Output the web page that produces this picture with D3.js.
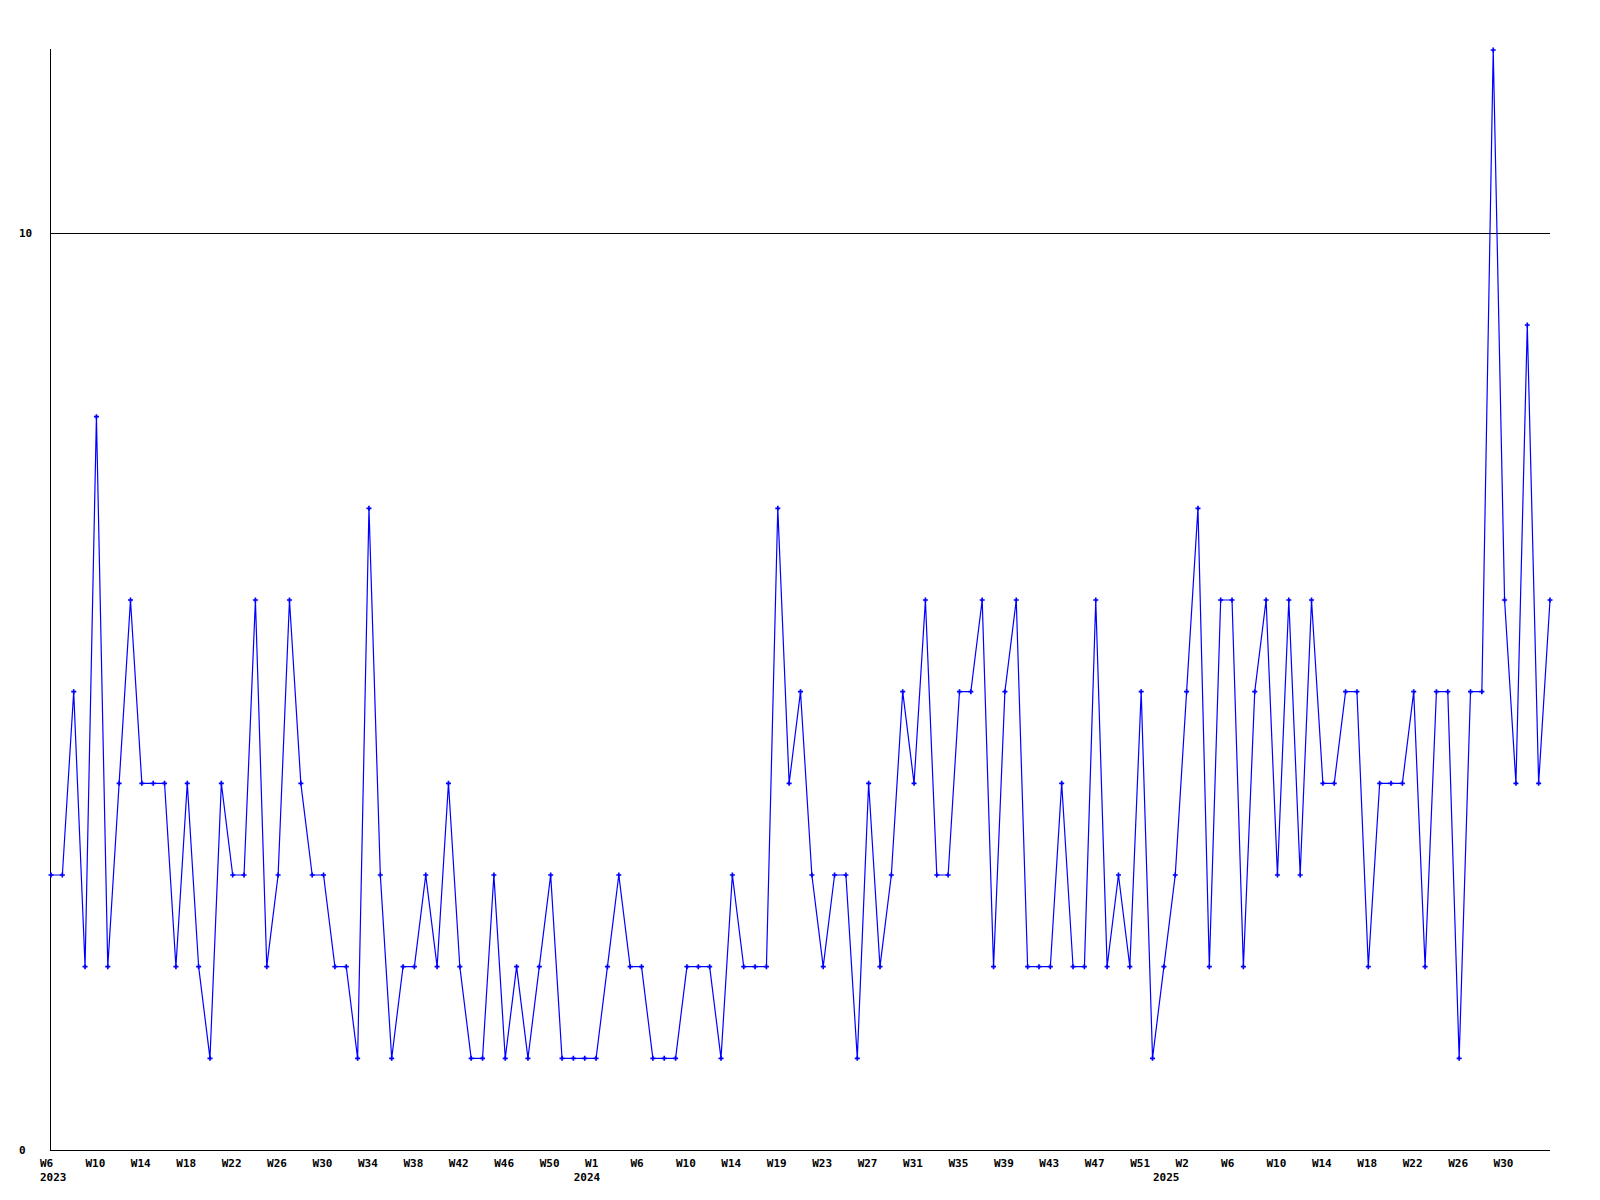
<!DOCTYPE html>
<html>
<head>
<meta charset="utf-8">
<script src="https://cdn.jsdelivr.net/npm/d3@7"></script>
<style>
  html, body { margin: 0; padding: 0; background: #fff; }
  svg text { font-family: "DejaVu Sans Mono", monospace; font-weight: bold; font-size: 11px; fill: #000; }
</style>
</head>
<body>
<svg id="chart" width="1600" height="1200"></svg>
<script>
const values = [3,3,5,2,8,2,4,6,4,4,
  4,2,4,2,1,4,3,3,6,2,
  3,6,4,3,3,2,2,1,7,3,
  1,2,2,3,2,4,2,1,1,3,
  1,2,1,2,3,1,1,1,1,2,
  3,2,2,1,1,1,2,2,2,1,
  3,2,2,2,7,4,5,3,2,3,
  3,1,4,2,3,5,4,6,3,3,
  5,5,6,2,5,6,2,2,2,4,
  2,2,6,2,3,2,5,1,2,3,
  5,7,2,6,6,2,5,6,3,6,
  3,6,4,4,5,5,2,4,4,4,
  5,2,5,5,1,5,5,12,6,4,
  9,4,6];
const weekLabels = ["W6","W10","W14","W18","W22","W26","W30","W34","W38","W42","W46","W50",
  "W1","W6","W10","W14","W19","W23","W27","W31","W35","W39","W43","W47","W51",
  "W2","W6","W10","W14","W18","W22","W26","W30"];
const weekLabelStep = 4;
const yearLabels = ["2023","2024","2025"];
const yearIndex = [0,47,98];
const yTicks = [0,10];
const yMax = 12;

const svg = d3.select("#chart");
const x = d3.scaleLinear().domain([0, values.length - 1]).range([51, 1550]);
const y = d3.scaleLinear().domain([0, yMax]).range([1150, 50]);

// grid line at 10
svg.append("g").selectAll("line").data(yTicks.filter(d => d > 0)).join("line")
  .attr("x1", 50).attr("x2", 1550)
  .attr("y1", d => Math.round(y(d)) + 0.5).attr("y2", d => Math.round(y(d)) + 0.5)
  .attr("stroke", "#000").attr("stroke-width", 1);

// axes lines
svg.append("line").attr("x1", 50.5).attr("x2", 50.5).attr("y1", 49).attr("y2", 1150.5)
  .attr("stroke", "#000");
svg.append("line").attr("x1", 50).attr("x2", 1550).attr("y1", 1150.5).attr("y2", 1150.5)
  .attr("stroke", "#000");

// y labels
svg.append("g").selectAll("text").data(yTicks).join("text")
  .attr("x", 19).attr("y", d => y(d) + 4)
  .text(d => d);

// x week labels
svg.append("g").selectAll("text").data(weekLabels).join("text")
  .attr("x", (d, i) => x(i * weekLabelStep) - 11)
  .attr("y", 1166.5)
  .text(d => d);

// year labels
svg.append("g").selectAll("text").data(yearLabels).join("text")
  .attr("x", (d, i) => x(yearIndex[i]) - 11)
  .attr("y", 1181)
  .text(d => d);

// line
const line = d3.line().x((d, i) => x(i)).y(d => y(d));
svg.append("path").datum(values)
  .attr("d", line)
  .attr("fill", "none").attr("stroke", "#0000ff").attr("stroke-width", 1.2);

// markers
const sym = d3.symbol().type(d3.symbolCross).size(14);
svg.append("g").selectAll("path").data(values).join("path")
  .attr("transform", (d, i) => `translate(${x(i)},${y(d)})`)
  .attr("d", sym)
  .attr("fill", "#0000ff");
</script>
</body>
</html>
